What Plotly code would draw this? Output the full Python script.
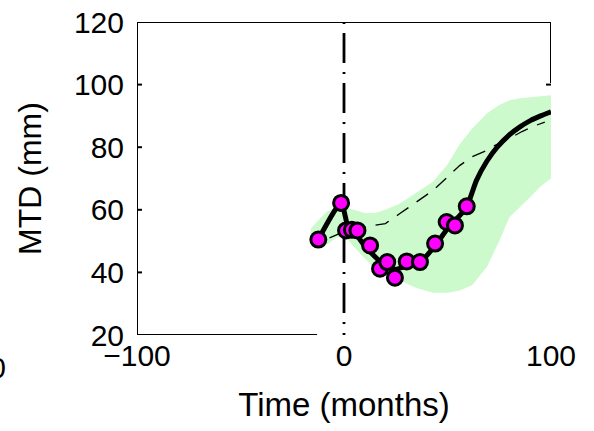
import plotly.graph_objects as go

# ---- data ----
obs_x = [-12.4, -1.4, 1.0, 3.8, 6.5, 12.6, 17.4, 20.9, 24.6, 30.3, 36.7, 44.0, 49.6, 53.6, 59.3]
obs_y = [50.5, 62.2, 53.4, 53.6, 53.4, 48.6, 41.2, 43.3, 38.3, 43.5, 43.3, 49.2, 56.1, 55.0, 61.1]

fit_x = [-12.4, -1.4, 2, 6, 10, 15, 20, 25, 30, 37, 44, 50, 55, 59.3, 64, 69, 74, 80, 85, 90, 95, 100]
fit_y = [50.5, 62.2, 54.5, 52, 48.5, 45, 42, 41, 42, 43.5, 48.5, 54, 57.5, 61, 69.4, 75.5, 80, 84, 86.5, 88.5, 90, 91.3]

mean_x = [-7, 0, 10, 20, 27, 38, 43, 50, 56, 62, 69, 73, 79, 86, 92, 97]
mean_y = [51, 53, 54.5, 55.6, 58.8, 64, 66.2, 70.5, 74.2, 77, 79, 80.6, 82.5, 85, 86.8, 88]

band_x = [-16, -12, -8, -4, 0, 5, 10, 15, 20, 27, 35, 43, 50, 56, 62, 69, 75, 80, 85, 90, 95, 100]
band_hi = [54, 57, 59.5, 60.5, 61, 60, 59, 59, 60, 62, 65.5, 69, 74.5, 81, 86, 90.8, 93.5, 95, 95.6, 96, 96.4, 96.6]
band_lo = [50, 48.5, 49, 51, 52, 48, 44.5, 41, 39, 37.4, 35, 33.5, 33.5, 34.2, 36, 41.7, 50, 57.7, 61, 64.1, 67.5, 70]

x_ticks = [-100, 0, 100]
y_ticks = [20, 40, 60, 80, 100, 120]
x_range = [-100, 100]
y_range = [20, 120]

FONT = "Liberation Sans, Arial, Helvetica, sans-serif"
FS = 30

fig = go.Figure()

# uncertainty band
fig.add_trace(go.Scatter(
    x=band_x + band_x[::-1], y=band_hi + band_lo[::-1],
    fill="toself", fillcolor="rgb(204,250,204)", line=dict(width=0),
    mode="lines", hoverinfo="skip", showlegend=False))

# dashed mean prediction
fig.add_trace(go.Scatter(
    x=mean_x, y=mean_y, mode="lines",
    line=dict(color="black", width=1.3, dash="14px,10px"),
    showlegend=False))

# vertical dash-dot line at t=0
fig.add_trace(go.Scatter(
    x=[0, 0], y=[120, 20], mode="lines",
    line=dict(color="black", width=2.8, dash="2px,9px,30px,9px"),
    showlegend=False))

# thick fitted line
fig.add_trace(go.Scatter(
    x=fit_x, y=fit_y, mode="lines",
    line=dict(color="black", width=5), line_shape="spline",
    line_smoothing=0.6, showlegend=False))

# observations
fig.add_trace(go.Scatter(
    x=obs_x, y=obs_y, mode="markers",
    marker=dict(size=15, color="#ff00ff", line=dict(color="black", width=3)),
    showlegend=False))

# axis box pieces (as in the reference)
lw = 2
shapes = [
    dict(type="line", x0=-100, x1=-100, y0=20, y1=120),
    dict(type="line", x0=-100, x1=100, y0=120, y1=120),
    dict(type="line", x0=100, x1=100, y0=100.5, y1=120),
    dict(type="line", x0=-100, x1=-13, y0=20, y1=20),
]
for yv in [40, 60, 80, 100]:
    shapes.append(dict(type="line", x0=-100, x1=-97.6, y0=yv, y1=yv))
shapes.append(dict(type="line", x0=100, x1=97.6, y0=100, y1=100))
for s in shapes:
    s.update(xref="x", yref="y", line=dict(color="black", width=lw), layer="above")

fig.update_layout(
    width=594, height=431,
    margin=dict(l=137, r=43, t=22, b=96),
    paper_bgcolor="white", plot_bgcolor="white",
    font=dict(family=FONT, size=FS, color="black"),
    shapes=shapes,
    xaxis=dict(range=x_range, tickvals=x_ticks, showgrid=False, zeroline=False,
               showline=False, ticks="", ticklabelstandoff=0, automargin=False,
               title=dict(text="Time (months)", standoff=21, font=dict(size=33))),
    yaxis=dict(range=y_range, tickvals=y_ticks, showgrid=False, zeroline=False,
               showline=False, ticks="", ticklabelstandoff=12, automargin=False,
               title=dict(text="MTD (mm)", standoff=22, font=dict(size=32))),
    annotations=[dict(text="100", xref="paper", yref="paper", x=-0.3116, y=-0.105,
                      xanchor="right", yanchor="middle", showarrow=False,
                      font=dict(size=FS))],
)

fig.write_html("out.html", config={"displayModeBar": False},
               post_script="document.body.style.margin='0px';")
